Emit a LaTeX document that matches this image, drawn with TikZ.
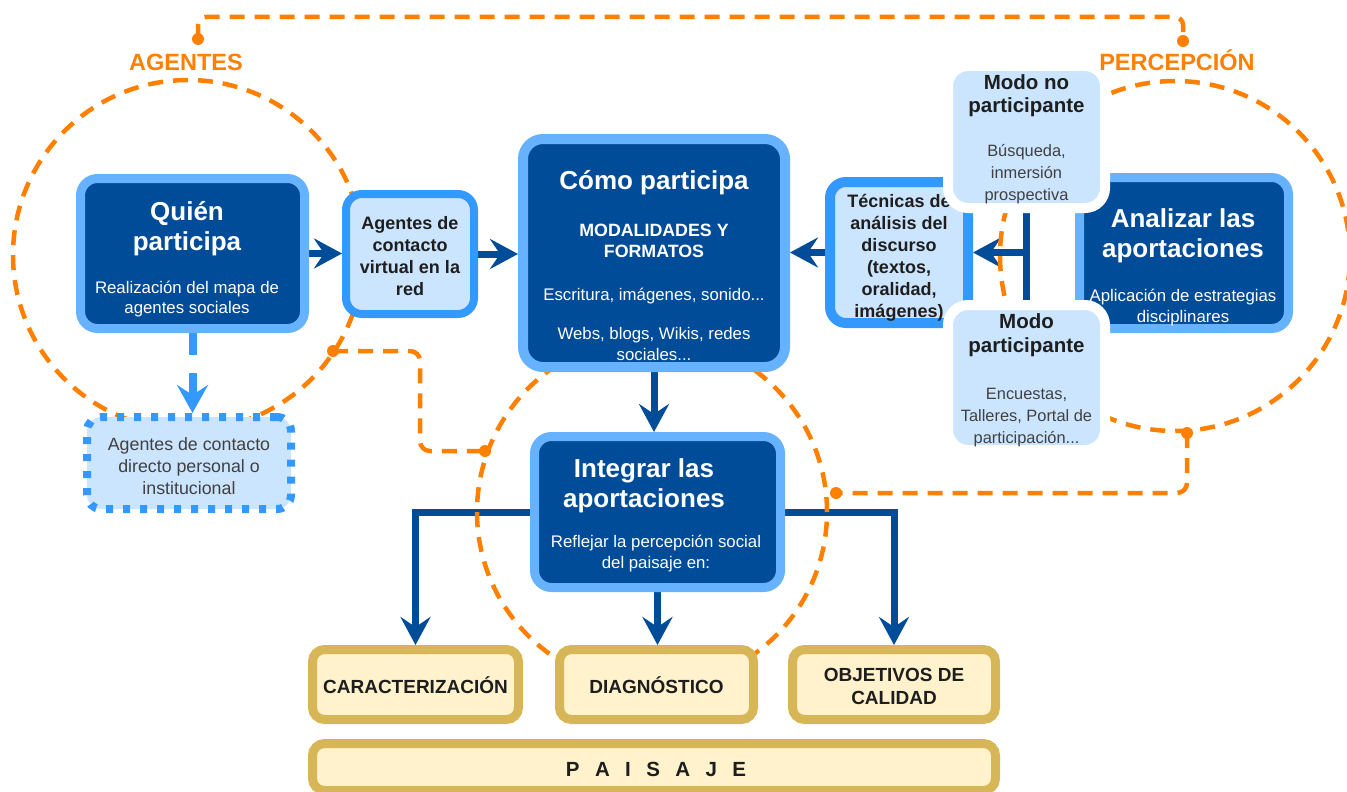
\documentclass[tikz,border=0pt]{standalone}
\usepackage{fontspec}
\setmainfont{Liberation Sans}
\usetikzlibrary{arrows.meta}
\definecolor{dblue}{HTML}{004C99}
\definecolor{lblue}{HTML}{66B2FF}
\definecolor{sblue}{HTML}{3399FF}
\definecolor{pblue}{HTML}{CCE5FF}
\definecolor{orng}{HTML}{FF8000}
\definecolor{gold}{HTML}{D6B656}
\definecolor{cream}{HTML}{FFF2CC}
\definecolor{txtdark}{HTML}{1E1E1E}
\pgfdeclarelayer{arrowlayer}
\pgfdeclarelayer{orangelayer}
\pgfsetlayers{arrowlayer,orangelayer,main}
\tikzset{
  darkbox/.style={draw=lblue, fill=dblue, line width=9pt, rounded corners=17pt, inner sep=0pt},
  palebox/.style={draw=sblue, fill=pblue, line width=8pt, rounded corners=16pt, inner sep=0pt},
  modobox/.style={draw=white, fill=pblue, line width=10pt, rounded corners=20pt, inner sep=0pt},
  goldbox/.style={draw=gold, fill=cream, line width=9pt, rounded corners=12pt, inner sep=0pt},
  dotbox/.style={draw=sblue, fill=pblue, line width=8pt, dash pattern=on 7pt off 10pt, rounded corners=14pt, inner sep=0pt},
  ttl/.style={text=white, font=\bfseries\fontsize{26}{30}\selectfont, anchor=base, inner sep=0pt},
  wsub/.style={text=white, font=\fontsize{16.8}{20}\selectfont, anchor=base, inner sep=0pt},
  wcaps/.style={text=white, font=\bfseries\fontsize{17.8}{22}\selectfont, anchor=base, inner sep=0pt},
  blk/.style={text=txtdark, font=\bfseries\fontsize{18}{22}\selectfont, anchor=base, inner sep=0pt},
  mtl/.style={text=txtdark, font=\bfseries\fontsize{20.5}{24}\selectfont, anchor=base, inner sep=0pt},
  msub/.style={text=txtdark!85, font=\fontsize{16.4}{22}\selectfont, anchor=base, inner sep=0pt},
  dsub/.style={text=txtdark!85, font=\fontsize{17.8}{22}\selectfont, anchor=base, inner sep=0pt},
  gtxt/.style={text=txtdark, font=\bfseries\fontsize{19}{23}\selectfont, anchor=base, inner sep=0pt},
  ptxt/.style={text=txtdark, font=\bfseries\fontsize{20.5}{24}\selectfont, anchor=base, inner sep=0pt},
  olabel/.style={text=orng, fill=white, font=\bfseries\fontsize{23.5}{28}\selectfont, anchor=base, inner sep=2pt},
  conn/.style={draw=dblue, line width=7pt, line join=miter, -{Stealth[length=28pt,width=30pt,inset=10pt]}},
  bline/.style={draw=dblue, line width=7pt},
  dconn/.style={draw=sblue, line width=8pt, dash pattern=on 22pt off 18pt, -{Stealth[length=28pt,width=31pt,inset=10pt]}},
  odash/.style={draw=orng, line width=4.5pt, dash pattern=on 15pt off 10pt},
}
\begin{document}
\begin{tikzpicture}[x=1pt,y=-1pt]
\useasboundingbox (0,0) rectangle (1347,792);

% ---------- orange dashed groups ----------
\begin{pgfonlayer}{orangelayer}
\coordinate (cA) at (188,255);
\coordinate (cI) at (652,512);
\coordinate (cP) at (1175,256);
\draw[odash] (cA) circle[radius=175pt];
\draw[odash] (cI) circle[radius=175pt];
\draw[odash] (cP) circle[radius=175pt];
\coordinate (dA) at (198,39);
\coordinate (dP) at (1183,41);
\coordinate (ytop) at (0,17);
\draw[odash, rounded corners=8pt] (dA) -- (dA |- ytop) -- (dP |- ytop) -- (dP);
\coordinate (dB) at (333,351);
\coordinate (dC) at (485,451);
\coordinate (xm) at (420,0);
\draw[odash, rounded corners=10pt] (dB) -- (dB -| xm) -- (xm |- dC) -- (dC);
\coordinate (dD) at (836,493);
\coordinate (dE) at (1187,433);
\draw[odash, rounded corners=10pt] (dE) -- (dE |- dD) -- (dD);
\foreach \p in {dA,dB,dC,dD,dE,dP} \fill[orng] (\p) circle[radius=6pt];
\end{pgfonlayer}

% ---------- boxes ----------
\node[darkbox, minimum width=224pt, minimum height=150pt] (quien) at (192.5,253.5) {};
\node[ttl] (q1) at (187,220) {Quién};
\node[ttl] (q2) at (187,250) {participa};
\node[wsub] (q3) at (187,293) {Realización del mapa de};
\node[wsub] (q4) at (187,313) {agentes sociales};

\node[palebox, minimum width=128pt, minimum height=120pt] (virt) at (410,254) {};
\node[blk] (v1) at (410,229) {Agentes de};
\node[blk] (v2) at (410,251) {contacto};
\node[blk] (v3) at (410,273) {virtual en la};
\node[blk] (v4) at (410,295) {red};

\node[darkbox, line width=10pt, rounded corners=20pt, minimum width=262pt, minimum height=228pt] (como) at (654,253) {};
\node[ttl] (c1) at (654,189) {Cómo participa};
\node[wcaps] (c2) at (654,236) {MODALIDADES Y};
\node[wcaps] (c3) at (654,257) {FORMATOS};
\node[wsub] (c4) at (654,300) {Escritura, imágenes, sonido...};
\node[wsub] (c5) at (654,339) {Webs, blogs, Wikis, redes};
\node[wsub] (c6) at (654,360) {sociales...};

\node[darkbox, minimum width=246pt, minimum height=151pt] (integ) at (657.5,512) {};
\node[ttl] (i1) at (644,477) {Integrar las};
\node[ttl] (i2) at (644,507) {aportaciones};
\node[wsub] (i3) at (656,547) {Reflejar la percepción social};
\node[wsub] (i4) at (656,568) {del paisaje en:};

\node[darkbox, minimum width=209pt, minimum height=151pt] (anal) at (1184,253) {};
\node[ttl] (a1) at (1183,227) {Analizar las};
\node[ttl] (a2) at (1183,257) {aportaciones};
\node[wsub] (a3) at (1183,301) {Aplicación de estrategias};
\node[wsub] (a4) at (1183,322) {disciplinares};

\node[palebox, line width=10pt, minimum width=138pt, minimum height=141pt] (tecn) at (899,252.5) {};
\node[blk] (t1) at (899,207) {Técnicas de};
\node[blk] (t2) at (899,229) {análisis del};
\node[blk] (t3) at (899,251) {discurso};
\node[blk] (t4) at (899,273) {(textos,};
\node[blk] (t5) at (899,295) {oralidad,};
\node[blk] (t6) at (899,317) {imágenes)};

\node[modobox, minimum width=157pt, minimum height=142pt] (modono) at (1026.5,137) {};
\node[mtl] (mn1) at (1026.5,89) {Modo no};
\node[mtl] (mn2) at (1026.5,113) {participante};
\node[msub] (mn3) at (1026.5,156) {Búsqueda,};
\node[msub] (mn4) at (1026.5,178) {inmersión};
\node[msub] (mn5) at (1026.5,200) {prospectiva};

\node[modobox, minimum width=157pt, minimum height=145pt] (modopa) at (1026.5,377.5) {};
\node[mtl] (mp1) at (1026.5,328) {Modo};
\node[mtl] (mp2) at (1026.5,352) {participante};
\node[msub] (mp3) at (1026.5,399) {Encuestas,};
\node[msub] (mp4) at (1026.5,421) {Talleres, Portal de};
\node[msub] (mp5) at (1026.5,443) {participación...};

\node[dotbox, minimum width=204pt, minimum height=92pt] (directo) at (189,463) {};
\node[dsub] (d1) at (189,450) {Agentes de contacto};
\node[dsub] (d2) at (189,472) {directo personal o};
\node[dsub] (d3) at (189,494) {institucional};

\node[goldbox, minimum width=206pt, minimum height=70pt] (cara) at (415.5,684.5) {};
\node[gtxt] (g1) at (415.5,693) {CARACTERIZACIÓN};
\node[goldbox, minimum width=194pt, minimum height=70pt] (diag) at (656.5,684.5) {};
\node[gtxt] (g2) at (656.5,693) {DIAGNÓSTICO};
\node[goldbox, minimum width=203pt, minimum height=70pt] (obj) at (894,684.5) {};
\node[gtxt] (g3) at (894,681) {OBJETIVOS DE};
\node[gtxt] (g4) at (894,704) {CALIDAD};
\node[goldbox, minimum width=683pt, minimum height=47pt] (paisaje) at (654,767) {};
\node[ptxt] (g5) at (656,776) {\spaceskip=15.4pt P A I S A J E};

% ---------- labels ----------
\node[olabel] (lagentes) at (186,70.5) {AGENTES};
\node[olabel] (lpercep) at (1177,70.5) {PERCEPCIÓN};

% ---------- connectors ----------
\begin{pgfonlayer}{arrowlayer}
\draw[conn] (quien.east) -- (quien.east -| virt.west);
\draw[conn] (virt.east) -- (virt.east -| como.west);
\draw[conn] (tecn.west) -- (tecn.west -| como.east);
\draw[conn] (como.south) -- (como.south |- integ.north);
\draw[conn] (integ.south) -- (integ.south |- diag.north);
\draw[conn] (integ.west) -| (cara.north);
\draw[conn] (integ.east) -| (obj.north);
\draw[bline] (modono.south) -- (modopa.north);
\coordinate (brk) at (modono.south |- tecn.east);
\draw[conn] (brk) -- (tecn.east);
\draw[dconn] (quien.south) -- (quien.south |- directo.north);
\end{pgfonlayer}
\end{tikzpicture}
\end{document}
